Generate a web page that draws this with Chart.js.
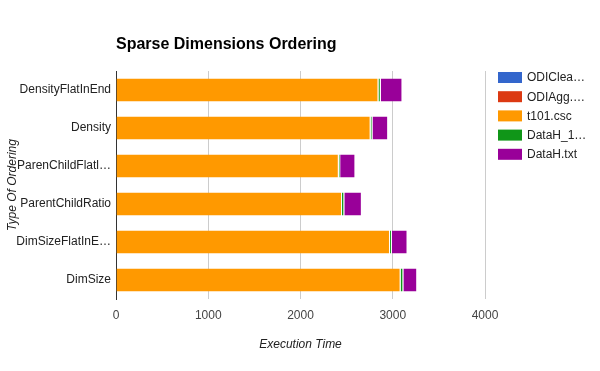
<!DOCTYPE html>
<html>
<head>
<meta charset="utf-8">
<script src="https://cdn.jsdelivr.net/npm/chart.js@4"></script>
<style>
  body { margin: 0; background: #fff; }
  #wrap { width: 600px; height: 371px; }
</style>
</head>
<body>
<div id="wrap"><canvas id="orderChart" width="600" height="371"></canvas></div>
<script>
const categories = ['DensityFlatInEnd', 'Density', 'ParenChildFlatl…', 'ParentChildRatio', 'DimSizeFlatInE…', 'DimSize'];
const seriesNames = ['ODIClea…', 'ODIAgg.…', 't101.csc', 'DataH_1…', 'DataH.txt'];
const odiClean = [0, 0, 0, 0, 0, 0];
const odiAgg = [0, 0, 0, 0, 0, 0];
const t101 = [2845, 2760, 2415, 2450, 2970, 3085];
const dataH1 = [25, 20, 15, 25, 20, 30];
const dataHtxt = [235, 170, 165, 190, 170, 150];
const xTicks = [0, 1000, 2000, 3000, 4000];

const colors = ['#3366cc', '#dc3912', '#ff9900', '#109618', '#990099'];
const font = 'Arial, "Liberation Sans", sans-serif';

// title + legend drawn by hand to match the original placement
const extras = {
    id: 'extras',
    afterDraw(chart) {
        const c = chart.ctx;
        c.save();
        c.fillStyle = '#000';
        c.font = 'bold 16px ' + font;
        c.textBaseline = 'middle';
        c.fillText('Sparse Dimensions Ordering', 116, 45);

        c.font = '12px ' + font;
        chart.data.datasets.forEach((ds, i) => {
            const y = 72 + i * 19.2;
            c.fillStyle = ds.backgroundColor;
            c.fillRect(498, y, 24, 11);
            c.fillStyle = '#222';
            c.fillText(ds.label, 527, y + 6);
        });
        c.restore();
    }
};

const seriesData = [odiClean, odiAgg, t101, dataH1, dataHtxt];

new Chart(document.getElementById('orderChart').getContext('2d'), {
    type: 'bar',
    data: {
        labels: categories,
        datasets: seriesNames.map((name, i) => ({
            label: name,
            data: seriesData[i],
            backgroundColor: colors[i],
            borderColor: '#fff',
            borderWidth: { left: 0, top: 0, bottom: 0, right: 1 },
            borderSkipped: false,
            barPercentage: 0.6,
            categoryPercentage: 1
        }))
    },
    options: {
        indexAxis: 'y',
        responsive: false,
        animation: false,
        layout: { padding: { left: 0, right: 115, top: 71, bottom: 0 } },
        plugins: {
            legend: { display: false },
            tooltip: { enabled: false }
        },
        scales: {
            x: {
                stacked: true,
                min: 0,
                max: 4000,
                afterBuildTicks: axis => { axis.ticks = xTicks.map(v => ({ value: v })); },
                afterFit: axis => { axis.height = 72; },
                border: { display: false },
                grid: {
                    drawTicks: false,
                    color: ctx => (ctx.tick && ctx.tick.value === 0 ? '#333' : '#ccc')
                },
                ticks: {
                    color: '#444',
                    font: { family: font, size: 12 },
                    padding: 9,
                    callback: v => String(v)
                },
                title: {
                    display: true,
                    text: 'Execution Time',
                    color: '#222',
                    font: { family: font, size: 12, style: 'italic' },
                    padding: { top: 16, bottom: 19 }
                }
            },
            y: {
                stacked: true,
                afterFit: axis => { axis.width = 116; },
                border: { display: true, color: '#333' },
                grid: { display: false, drawTicks: false },
                ticks: { color: '#222', font: { family: font, size: 12 }, padding: 5 },
                title: {
                    display: true,
                    text: 'Type Of Ordering',
                    color: '#222',
                    font: { family: font, size: 12, style: 'italic' },
                    padding: { top: 5, bottom: 2 }
                }
            }
        }
    },
    plugins: [extras]
});
</script>
</body>
</html>
